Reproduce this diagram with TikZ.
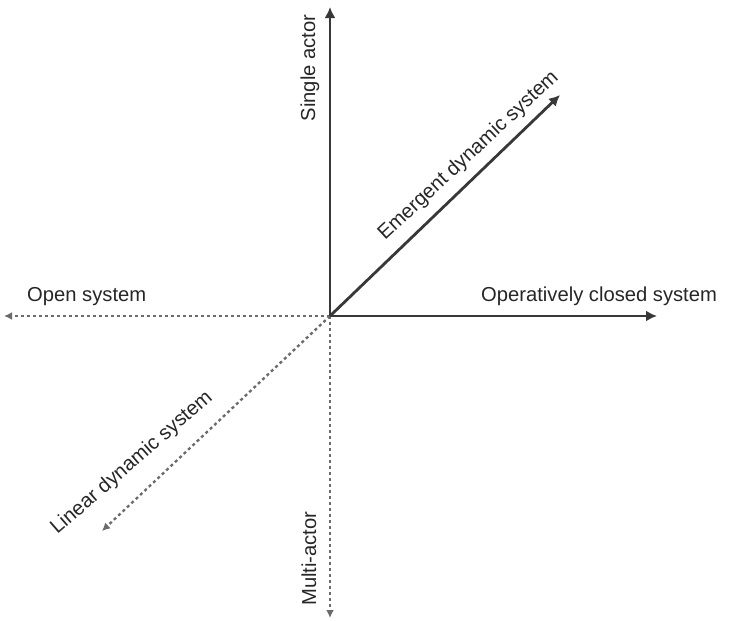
\documentclass[tikz,border=0pt]{standalone}
\usepackage{fontspec}
\setmainfont{Liberation Sans}
\usetikzlibrary{arrows.meta}
\begin{document}
\begin{tikzpicture}[x=1pt,y=-1pt,
  solidax/.style={draw=black!78, line width=2.8pt, -{Latex[length=11pt,width=11pt]}},
  dashax/.style={draw=black!58, line width=2.4pt, dash pattern=on 3pt off 3pt, -{Latex[length=8pt,width=8pt]}},
  lbl/.style={font=\fontsize{20.2}{23}\selectfont, text=black!85, inner sep=0pt}]
\useasboundingbox (0,0) rectangle (731,621);
\coordinate (o) at (330,316);
\coordinate (top) at (330,7);
\coordinate (right) at (657,316);
\coordinate (left) at (4,316);
\coordinate (bottom) at (330,618);
\coordinate (ne) at (560,95);
\coordinate (sw) at (102,531);
\draw[dashax] (o) -- (left);
\draw[dashax] (o) -- (bottom);
\draw[dashax] (o) -- (sw);
\draw[solidax] (o) -- (top);
\draw[solidax] (o) -- (right);
\draw[solidax] (o) -- (ne);
\node[lbl, rotate=90] (single) at (310,68) {Single actor};
\node[lbl, rotate=90, anchor=base west] (multi) at (316,606) {Multi-actor};
\node[lbl, anchor=base west] (open) at (27,301) {Open system};
\node[lbl, anchor=base west] (closed) at (481,301) {Operatively closed system};
\node[lbl, rotate=43, anchor=base west] (emerg) at (385,241) {Emergent dynamic system};
\node[lbl, rotate=41] (linear) at (132,463) {Linear dynamic system};
\end{tikzpicture}
\end{document}
